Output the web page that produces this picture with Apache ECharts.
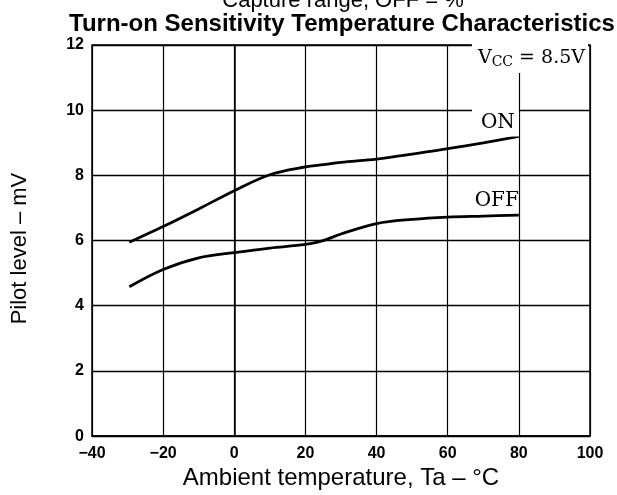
<!DOCTYPE html>
<html>
<head>
<meta charset="utf-8">
<script src="https://cdn.jsdelivr.net/npm/echarts@6/dist/echarts.min.js"></script>
<style>
html,body{margin:0;padding:0;background:#fff;}
#chart{width:617px;height:495px;}
</style>
</head>
<body>
<div id="chart"></div>
<script>
// Data
var temperatures = [-29.5, -20, -10, 0, 10, 20, 25, 30, 40, 50, 60, 70, 80];
var onLevel  = [5.95, 6.43, 6.97, 7.53, 8.02, 8.26, 8.33, 8.40, 8.50, 8.65, 8.82, 9.00, 9.20];
var offLevel = [4.58, 5.11, 5.47, 5.63, 5.77, 5.88, 6.00, 6.20, 6.52, 6.65, 6.72, 6.75, 6.78];
var xTicks = [-40, -20, 0, 20, 40, 60, 80, 100];
var yTicks = [0, 2, 4, 6, 8, 10, 12];
var titleLine1 = 'Capture range, OFF = %';
var titleLine2 = 'Turn-on Sensitivity Temperature Characteristics';
var xName = 'Ambient temperature, Ta \u2013 \u00B0C';
var yName = 'Pilot level \u2013 mV';

function pairs(xs, ys) { return xs.map(function (x, i) { return [x, ys[i]]; }); }

var sans = '"Liberation Sans", Arial, sans-serif';
var serif = '"DejaVu Serif", "Liberation Serif", serif';

var chart = echarts.init(document.getElementById('chart'), null, {renderer: 'canvas'});
chart.setOption({
  animation: false,
  backgroundColor: '#fff',
  title: [
    {text: titleLine1, left: 338, top: -15, textAlign: 'center',
     textStyle: {fontFamily: sans, fontSize: 22, fontWeight: 'normal', color: '#000', lineHeight: 22}},
    {text: titleLine2, left: 337, top: 7, textAlign: 'center',
     textStyle: {fontFamily: sans, fontSize: 24, fontWeight: 'bold', color: '#000', lineHeight: 24}}
  ],
  grid: {left: 92, right: 27, top: 45, bottom: 47, show: true, borderColor: '#000', borderWidth: 1.5, backgroundColor: 'transparent'},
  xAxis: {
    type: 'value', min: xTicks[0], max: xTicks[xTicks.length - 1], interval: 20,
    name: xName, nameLocation: 'middle', nameGap: 26,
    nameTextStyle: {fontFamily: sans, fontSize: 24, color: '#000', lineHeight: 24},
    axisLine: {show: true, onZero: false, lineStyle: {color: '#000', width: 1.5}},
    axisTick: {show: false},
    axisLabel: {margin: 9, fontFamily: sans, fontSize: 16, fontWeight: 'bold', color: '#000',
      formatter: function (v) { return String(v).replace('-', '\u2212'); }},
    splitLine: {show: true, lineStyle: {color: '#000', width: 1.2}}
  },
  yAxis: {
    type: 'value', min: yTicks[0], max: yTicks[yTicks.length - 1], interval: 2,
    name: yName, nameLocation: 'middle', nameGap: 61,
    nameTextStyle: {fontFamily: sans, fontSize: 22, color: '#000', lineHeight: 22, padding: [0, 16, 0, 0]},
    axisLine: {show: true, lineStyle: {color: '#000', width: 1.5}},
    axisTick: {show: false},
    axisLabel: {margin: 8, fontFamily: sans, fontSize: 16, fontWeight: 'bold', color: '#000'},
    splitLine: {show: true, lineStyle: {color: '#000', width: 1.4}}
  },
  series: [
    {
      name: 'ON', type: 'line', data: pairs(temperatures, onLevel), smooth: 0.35,
      showSymbol: false, lineStyle: {color: '#000', width: 2.8}, itemStyle: {color: '#000'},
      markPoint: {
        symbol: 'rect', symbolSize: 0, silent: true,
        label: {show: true, position: 'left', distance: 0},
        data: [
          {coord: [80, 9.62], label: {formatter: 'ON', fontFamily: serif, fontSize: 20, color: '#000',
            backgroundColor: '#fff', padding: [4, 4, 4, 9]}},
          {coord: [100, 11.6], label: {
            formatter: '{v|V}{s|CC}{v| = 8.5V}', backgroundColor: '#fff', padding: [4, 3, 4, 6], offset: [-2, 0],
            rich: {
              v: {fontFamily: serif, fontSize: 19, color: '#000', lineHeight: 22, verticalAlign: 'middle'},
              s: {fontFamily: serif, fontSize: 14, color: '#000', lineHeight: 22, verticalAlign: 'bottom', padding: [6, 0, 0, 0]}
            }}}
        ]
      }
    },
    {
      name: 'OFF', type: 'line', data: pairs(temperatures, offLevel), smooth: 0.35,
      showSymbol: false, lineStyle: {color: '#000', width: 2.8}, itemStyle: {color: '#000'},
      markPoint: {
        symbol: 'rect', symbolSize: 0, silent: true,
        label: {show: true, position: 'left', distance: 0},
        data: [
          {coord: [80, 7.21], label: {formatter: 'OFF', fontFamily: serif, fontSize: 20, color: '#000'}}
        ]
      }
    }
  ]
});
</script>
</body>
</html>
